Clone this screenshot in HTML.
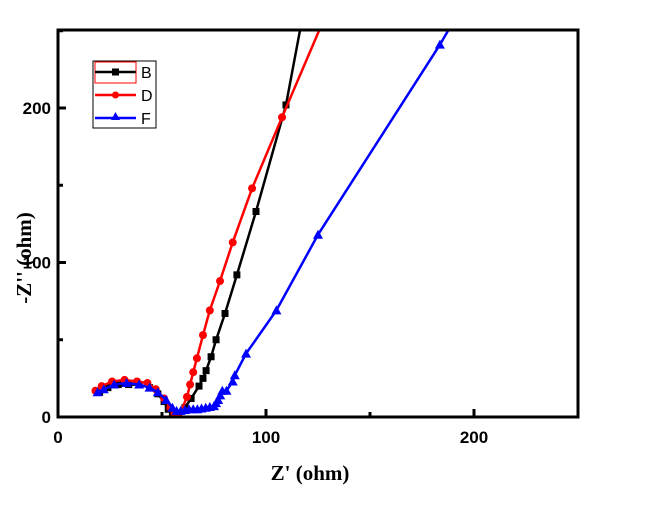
<!DOCTYPE html>
<html><head><meta charset="utf-8"><style>
body{margin:0;background:#fff}
svg{display:block;font-family:"Liberation Sans",Arial,sans-serif}
</style></head><body>
<svg id="c" width="655" height="505" viewBox="0 0 655 505">
<g id="plot"></g>
<rect x="58" y="30" width="520" height="387" fill="none" stroke="#000" stroke-width="3"/>
<g id="axes"></g>
<text x="310" y="480" text-anchor="middle" font-family="Liberation Serif,serif" font-weight="bold" font-size="21">Z' (ohm)</text>
<text transform="translate(31,258) rotate(-90)" text-anchor="middle" font-family="Liberation Serif,serif" font-weight="bold" font-size="21">-Z'' (ohm)</text>
<g>
<rect x="93" y="61" width="63" height="67" fill="#fff" stroke="#000" stroke-width="1"/>
<rect x="95" y="62" width="41" height="21" fill="none" stroke="#f00" stroke-width="1"/>
<g><line x1="95" y1="72" x2="136" y2="72" stroke="#000" stroke-width="2.5"/><rect x="112" y="68.5" width="7" height="7" fill="#000"/><text x="141" y="78" font-size="16">B</text></g>
<g><line x1="95" y1="95" x2="136" y2="95" stroke="#f00" stroke-width="2.5"/><circle cx="115.5" cy="95" r="3.5" fill="#f00"/><text x="141" y="101" font-size="16">D</text></g>
<g><line x1="95" y1="118" x2="136" y2="118" stroke="#00f" stroke-width="2.5"/><path d="M115.5,112 L120,120 L111,120 Z" fill="#00f"/><text x="141" y="124" font-size="16">F</text></g>
</g>
</svg>
<script>
const bX=[20,24,29,34,39,44,48,51,53,55,58,61,64,67.8,69.7,71.2,73.6,76,80.3,86,95.2,109.6,116.3];
const bY=[16,19,21,21,21,19,15,10,5,1,2,6,12,20,25,30,39,50,67,92,133,202,250];
const dX=[18,21,26,32,38,43,47,51,54,56,58,62,63.5,65,66.8,69.7,73,77.9,84,93.3,107.7,125.5];
const dY=[17,20,23,24,23,22,18,12,6,2,0,13,21,29,38,53,69,88,113,148,194,250];
const fX=[19,22,27,33,39,44,48,52,55,57,59,61,63,65,67,69,71,73,75,76,77,78,79,81,84,85,90.4,105,125,183.6,187.5];
const fY=[16,18,21,22,21,19,16,11,6,4,4,4.5,5,5,5,5.5,6,6.5,7,9,11,14,17,17,23,27,41,69,118,241,250];
const xTicks=[0,100,200];
const yTicks=[0,100,200];
const xs=v=>58+v*2.08, ys=v=>417-v*1.545;
const NS="http://www.w3.org/2000/svg";
const plot=document.getElementById('plot'), axes=document.getElementById('axes');
function mk(t,a,p){const e=document.createElementNS(NS,t);for(const k in a)e.setAttribute(k,a[k]);p.appendChild(e);return e;}
function series(X,Y,col,shape,name){
  const g=mk('g',{},plot);
  
  
  let d=X.map((x,i)=>(i?'L':'M')+xs(x).toFixed(1)+','+ys(Y[i]).toFixed(1)).join('');
  mk('path',{d:d,fill:'none',stroke:col,'stroke-width':2.5},g);
  X.forEach((x,i)=>{const cx=xs(x),cy=ys(Y[i]);if(cy<31)return;let m;
    if(shape==='s')m=mk('rect',{x:cx-3.5,y:cy-3.5,width:7,height:7,fill:col},g);
    else if(shape==='c')m=mk('circle',{cx:cx,cy:cy,r:4,fill:col},g);
    else m=mk('path',{d:`M${cx},${cy-5}L${cx+5},${cy+4}L${cx-5},${cy+4}Z`,fill:col},g);
    
    
  });
}
const clip=mk('clipPath',{id:'cl'},document.getElementById('c'));
mk('rect',{x:58,y:30,width:520,height:387},clip);
plot.setAttribute('clip-path','url(#cl)');
series(bX,bY,'#000','s','series-b');
series(dX,dY,'#f00','c','series-d');
series(fX,fY,'#00f','t','series-f');
for(let v=0;v<=250;v+=50){
  const x=xs(v),major=v%100===0;
  const t=mk('line',{x1:x,x2:x,y1:417,y2:417-(major?8:5),stroke:'#000','stroke-width':3},axes);
  
  
}
for(let v=0;v<=250;v+=50){
  const y=ys(v),major=v%100===0;
  const t=mk('line',{x1:58,x2:58+(major?8:5),y1:y,y2:y,stroke:'#000','stroke-width':3},axes);
  
  
}
xTicks.forEach(v=>{const t=mk('text',{x:xs(v),y:443,'text-anchor':'middle','font-size':17,'font-weight':'bold'},axes);t.textContent=v;
  
  });
yTicks.forEach(v=>{const t=mk('text',{x:51,y:ys(v)+6,'text-anchor':'end','font-size':17,'font-weight':'bold'},axes);t.textContent=v;
  
  });
</script>
</body></html>
